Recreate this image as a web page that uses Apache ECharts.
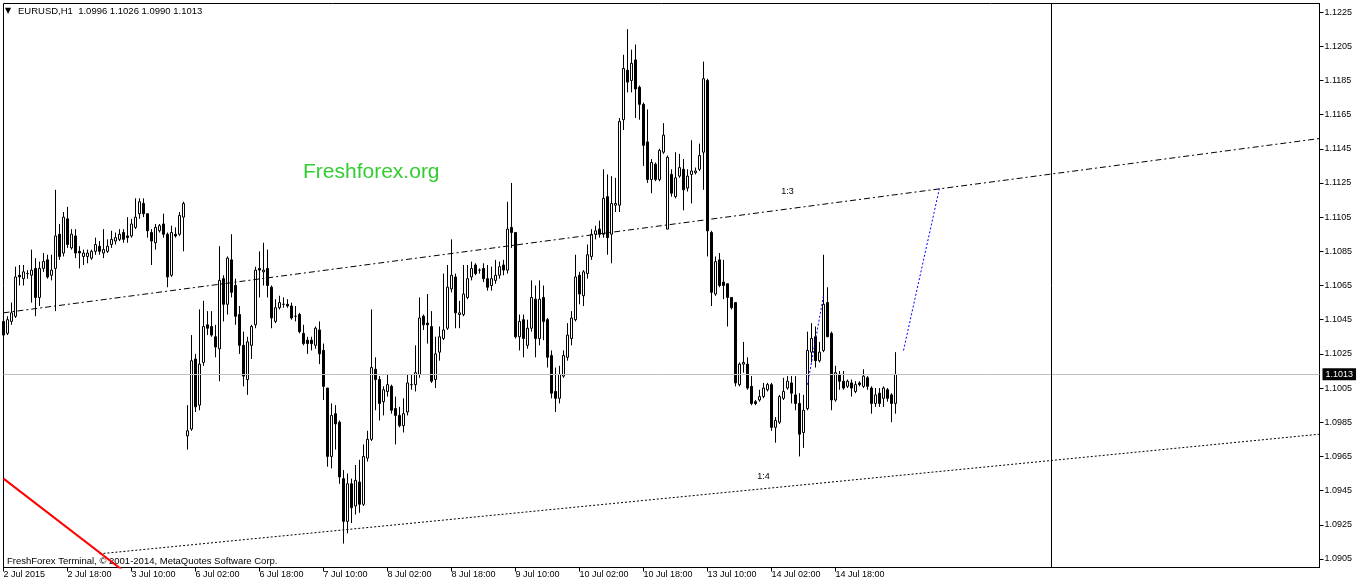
<!DOCTYPE html>
<html>
<head>
<meta charset="utf-8">
<title>EURUSD,H1</title>
<script src="https://cdn.jsdelivr.net/npm/echarts@6/dist/echarts.min.js"></script>
<style>
  html, body { margin: 0; padding: 0; background: #fff; }
  #chart { width: 1362px; height: 586px; }
</style>
</head>
<body>
<div id="chart"></div>
<script>
// EURUSD hourly bars, one array per trading day, each bar [open, high, low, close]
const jul02 = [
  [1.1044,1.1046,1.1030,1.1036],[1.1037,1.1047,1.1036,1.1045],[1.1044,1.1055,1.1042,1.1049],[1.1047,1.1076,1.1046,1.1070],
  [1.1071,1.1077,1.1065,1.1070],[1.1069,1.1077,1.1065,1.1073],[1.1072,1.1074,1.1069,1.1072],[1.1071,1.1086,1.1055,1.1074],
  [1.1075,1.1081,1.1047,1.1058],[1.1058,1.1079,1.1053,1.1075],[1.1075,1.1084,1.1073,1.1079],[1.1080,1.1083,1.1069,1.1070],
  [1.1071,1.1083,1.1068,1.1074],[1.1075,1.1121,1.1050,1.1094],[1.1095,1.1101,1.1080,1.1082],[1.1084,1.1108,1.1082,1.1105],
  [1.1104,1.1111,1.1087,1.1089],[1.1087,1.1098,1.1086,1.1095],[1.1094,1.1098,1.1081,1.1084],[1.1085,1.1088,1.1075,1.1084],
  [1.1082,1.1086,1.1077,1.1084],[1.1082,1.1086,1.1078,1.1084]
];
const jul03 = [
  [1.1081,1.1086,1.1080,1.1085],[1.1085,1.1093,1.1083,1.1089],[1.1088,1.1091,1.1083,1.1085],[1.1084,1.1098,1.1081,1.1086],
  [1.1085,1.1092,1.1084,1.1088],[1.1089,1.1097,1.1087,1.1092],[1.1091,1.1096,1.1089,1.1093],[1.1092,1.1098,1.1091,1.1095],
  [1.1096,1.1098,1.1090,1.1092],[1.1094,1.1105,1.1090,1.1093],[1.1094,1.1104,1.1093,1.1101],[1.1099,1.1116,1.1098,1.1105],
  [1.1107,1.1116,1.1104,1.1114],[1.1113,1.1116,1.1105,1.1107],[1.1107,1.1107,1.1093,1.1097],[1.1096,1.1098,1.1077,1.1091],
  [1.1090,1.1101,1.1086,1.1099],[1.1097,1.1101,1.1096,1.1100],[1.1101,1.1107,1.1093,1.1095],[1.1095,1.1096,1.1064,1.1070],
  [1.1071,1.1100,1.1070,1.1096],[1.1095,1.1099,1.1093,1.1094],[1.1095,1.1108,1.1094,1.1106],[1.1105,1.1114,1.1085,1.1113]
];
const jul06 = [
  [1.0977,1.0995,1.0969,1.0980],[1.0981,1.1036,1.0980,1.1021],[1.1022,1.1025,1.0991,1.0994],[1.0995,1.1051,1.0992,1.1019],
  [1.1020,1.1056,1.1018,1.1041],[1.1042,1.1050,1.1036,1.1040],[1.1041,1.1050,1.1035,1.1036],[1.1035,1.1042,1.1023,1.1029],
  [1.1028,1.1088,1.1009,1.1068],[1.1069,1.1071,1.1044,1.1054],[1.1054,1.1082,1.1048,1.1081],[1.1080,1.1095,1.1058,1.1061],
  [1.1065,1.1069,1.1042,1.1047],[1.1048,1.1053,1.1025,1.1030],[1.1030,1.1038,1.1006,1.1012],[1.1010,1.1035,1.1001,1.1032],
  [1.1030,1.1042,1.1022,1.1041],[1.1042,1.1076,1.1040,1.1074],[1.1075,1.1085,1.1058,1.1074],[1.1073,1.1090,1.1065,1.1074],
  [1.1075,1.1086,1.1058,1.1065],[1.1064,1.1065,1.1040,1.1046],[1.1044,1.1057,1.1043,1.1052],[1.1052,1.1059,1.1051,1.1055]
];
const jul07 = [
  [1.1054,1.1058,1.1052,1.1054],[1.1054,1.1057,1.1052,1.1053],[1.1053,1.1055,1.1045,1.1046],[1.1047,1.1053,1.1044,1.1047],
  [1.1048,1.1049,1.1037,1.1038],[1.1037,1.1042,1.1030,1.1031],[1.1033,1.1035,1.1025,1.1031],[1.1033,1.1035,1.1027,1.1031],
  [1.1030,1.1041,1.1028,1.1040],[1.1039,1.1044,1.1019,1.1025],[1.1027,1.1031,1.0998,1.1006],[1.1005,1.1005,1.0959,1.0965],
  [1.0965,1.0996,1.0958,1.0989],[1.0990,1.0995,1.0969,1.0984],[1.0985,1.0986,1.0949,1.0953],[1.0952,1.0957,1.0914,1.0927],
  [1.0927,1.0955,1.0920,1.0949],[1.0949,1.0952,1.0926,1.0935],[1.0936,1.0960,1.0931,1.0951],[1.0950,1.0963,1.0932,1.0937],
  [1.0937,1.0972,1.0936,1.0965],[1.0964,1.0980,1.0962,1.0975],[1.0975,1.1051,1.0974,1.1017],[1.1016,1.1023,1.0992,1.1010]
];
const jul08 = [
  [1.1010,1.1012,1.0986,1.0996],[1.0997,1.1006,1.0989,1.1004],[1.1003,1.1013,1.1000,1.1007],[1.1006,1.1007,1.0990,1.0992],
  [1.0993,1.1000,1.0972,1.0989],[1.0989,1.0994,1.0982,1.0983],[1.0983,1.0999,1.0979,1.0990],[1.0991,1.1013,1.0989,1.1008],
  [1.1007,1.1013,1.1004,1.1007],[1.1007,1.1030,1.1003,1.1014],[1.1013,1.1058,1.1011,1.1046],[1.1047,1.1048,1.1039,1.1042],
  [1.1043,1.1060,1.1031,1.1042],[1.1041,1.1050,1.1008,1.1009],[1.1010,1.1035,1.1005,1.1025],[1.1026,1.1041,1.1021,1.1035],
  [1.1034,1.1072,1.1033,1.1039],[1.1040,1.1077,1.1039,1.1064],[1.1063,1.1092,1.1061,1.1071],[1.1070,1.1072,1.1040,1.1049],
  [1.1048,1.1056,1.1040,1.1049],[1.1048,1.1077,1.1047,1.1060],[1.1058,1.1077,1.1057,1.1069],[1.1070,1.1079,1.1068,1.1075]
];
const jul09 = [
  [1.1077,1.1078,1.1071,1.1072],[1.1074,1.1075,1.1072,1.1074],[1.1075,1.1078,1.1067,1.1069],[1.1069,1.1077,1.1062,1.1064],
  [1.1065,1.1076,1.1062,1.1069],[1.1068,1.1080,1.1066,1.1071],[1.1071,1.1079,1.1069,1.1076],[1.1077,1.1080,1.1071,1.1074],
  [1.1074,1.1114,1.1072,1.1098],[1.1099,1.1125,1.1087,1.1096],[1.1096,1.1096,1.1034,1.1035],[1.1035,1.1048,1.1027,1.1044],
  [1.1045,1.1048,1.1023,1.1034],[1.1030,1.1045,1.1028,1.1040],[1.1040,1.1068,1.1038,1.1058],[1.1057,1.1065,1.1023,1.1034],
  [1.1034,1.1068,1.1030,1.1057],[1.1058,1.1065,1.1033,1.1044],[1.1045,1.1046,1.1017,1.1023],[1.1024,1.1027,1.0999,1.1002],
  [1.1003,1.1017,1.0991,1.0999],[1.0999,1.1018,1.0996,1.1013],[1.1012,1.1027,1.1011,1.1024],[1.1023,1.1043,1.1021,1.1036]
];
const jul10 = [
  [1.1034,1.1050,1.1030,1.1046],[1.1045,1.1083,1.1044,1.1070],[1.1071,1.1073,1.1054,1.1060],[1.1059,1.1074,1.1053,1.1073],
  [1.1072,1.1089,1.1069,1.1083],[1.1082,1.1098,1.1080,1.1095],[1.1095,1.1100,1.1092,1.1097],[1.1098,1.1103,1.1093,1.1095],
  [1.1095,1.1133,1.1093,1.1116],[1.1117,1.1130,1.1083,1.1093],[1.1095,1.1129,1.1078,1.1113],[1.1112,1.1128,1.1108,1.1113],
  [1.1112,1.1163,1.1108,1.1161],[1.1162,1.1200,1.1156,1.1192],[1.1191,1.1215,1.1178,1.1184],[1.1185,1.1203,1.1178,1.1195],
  [1.1197,1.1206,1.1163,1.1180],[1.1181,1.1182,1.1162,1.1171],[1.1171,1.1172,1.1135,1.1147],[1.1149,1.1168,1.1125,1.1127],
  [1.1127,1.1139,1.1119,1.1137],[1.1136,1.1137,1.1126,1.1127],[1.1127,1.1145,1.1126,1.1144],[1.1143,1.1160,1.1142,1.1153]
];
const jul13 = [
  [1.1098,1.1141,1.1098,1.1140],[1.1130,1.1133,1.1117,1.1119],[1.1117,1.1143,1.1116,1.1128],[1.1129,1.1142,1.1128,1.1134],
  [1.1133,1.1139,1.1109,1.1121],[1.1122,1.1133,1.1120,1.1129],[1.1130,1.1150,1.1113,1.1132],[1.1131,1.1134,1.1130,1.1132],
  [1.1133,1.1148,1.1132,1.1141],[1.1143,1.1196,1.1121,1.1186],[1.1185,1.1186,1.1082,1.1097],[1.1096,1.1097,1.1053,1.1061],
  [1.1060,1.1082,1.1059,1.1079],[1.1080,1.1084,1.1064,1.1065],[1.1067,1.1080,1.1057,1.1065],[1.1066,1.1066,1.1041,1.1058],
  [1.1058,1.1058,1.1051,1.1052],[1.1055,1.1055,1.1006,1.1008],[1.1007,1.1020,1.1006,1.1019],[1.1019,1.1032,1.1014,1.1020],
  [1.1019,1.1023,1.1004,1.1005],[1.1006,1.1012,1.0995,1.0996],[1.0997,1.0998,1.0995,1.0996],[1.0998,1.1004,1.0997,1.1000]
];
const jul14 = [
  [1.1000,1.1008,1.0999,1.1005],[1.1004,1.1008,1.1003,1.1007],[1.1007,1.1008,1.0980,1.0982],[1.0982,1.0988,1.0973,1.0986],
  [1.0985,1.1001,1.0984,1.1000],[1.0999,1.1011,1.0998,1.1003],[1.1005,1.1012,1.1004,1.1009],[1.1008,1.1012,1.0996,1.1002],
  [1.1001,1.1012,1.0992,1.0996],[1.0996,1.1002,1.0965,1.0978],[1.0979,1.1001,1.0970,1.0992],[1.0993,1.1038,1.0992,1.1027],
  [1.1026,1.1043,1.1020,1.1034],[1.1035,1.1041,1.1017,1.1021],[1.1021,1.1032,1.1020,1.1026],[1.1027,1.1083,1.1026,1.1054],
  [1.1055,1.1064,1.1035,1.1035],[1.1037,1.1038,1.0992,1.0998],[1.0998,1.1018,1.0997,1.1014],[1.1013,1.1015,1.1004,1.1009],
  [1.1009,1.1015,1.1004,1.1005],[1.1006,1.1010,1.1005,1.1009],[1.1008,1.1010,1.1000,1.1005],[1.1003,1.1009,1.1002,1.1007]
];
const jul15 = [
  [1.1008,1.1009,1.1006,1.1007],[1.1006,1.1016,1.1005,1.1012],[1.1011,1.1012,1.1004,1.1006],[1.1005,1.1006,1.0990,1.0996],
  [1.0996,1.1005,1.0994,1.1001],[1.1002,1.1005,1.0994,1.0996],[1.0999,1.1006,1.0994,1.1005],[1.1004,1.1005,1.0997,1.0999],
  [1.1001,1.1002,1.0985,1.0996],[1.0996,1.1026,1.0990,1.1013]
];

// time-scale labels, one every 16 bars
const timeLabels = ['2 Jul 2015', '2 Jul 18:00', '3 Jul 10:00', '6 Jul 02:00', '6 Jul 18:00', '7 Jul 10:00',
  '8 Jul 02:00', '8 Jul 18:00', '9 Jul 10:00', '10 Jul 02:00', '10 Jul 18:00', '13 Jul 10:00',
  '14 Jul 02:00', '14 Jul 18:00'];
// price-scale labels
const priceLabels = [1.0905, 1.0925, 1.0945, 1.0965, 1.0985, 1.1005, 1.1025, 1.1045, 1.1065,
  1.1085, 1.1105, 1.1125, 1.1145, 1.1165, 1.1185, 1.1205, 1.1225];

// drawn objects: [bar index, price]
const channelUpper = [[0, 1.1049], [329, 1.1151]];   // dash-dot "1:3"
const channelLower = [[24, 1.0908], [329, 1.0978]];  // dotted "1:4"
const redRay = [[0, 1.0952], [30, 1.0898]];
const blueLegA = [[201, 1.1007], [205, 1.1059]];
const blueLegB = [[225, 1.1027], [234, 1.1122]];
const upperTag = [196, 1.1120];
const lowerTag = [190, 1.0953];
const markerBar = 262;             // vertical line
const labelStep = 16;
const slotCount = 330;             // bars plus right-hand shift space

const bars = [].concat(jul02, jul03, jul06, jul07, jul08, jul09, jul10, jul13, jul14, jul15);
const slots = Array.from({ length: slotCount }, (_, i) => String(i));
const candles = bars.map(b => [b[0], b[3], b[2], b[1]]);   // open, close, low, high
const lastIndex = bars.length - 1;
const last = bars[lastIndex];
const fmt = v => v.toFixed(4);

const FONT = '"Liberation Sans", Arial, sans-serif';
const showLabel = idx => idx % labelStep === 0 && idx / labelStep < timeLabels.length;

const chart = echarts.init(document.getElementById('chart'), null, { renderer: 'canvas' });
chart.setOption({
  animation: false,
  backgroundColor: '#fff',
  grid: { left: 3.5, right: 42.5, top: 3.5, bottom: 18.5, show: true, borderColor: '#000', borderWidth: 1, backgroundColor: '#fff' },
  xAxis: {
    type: 'category',
    data: slots,
    boundaryGap: false,
    axisLine: { show: true, lineStyle: { color: '#000', width: 1 } },
    axisTick: { show: true, interval: showLabel, length: 4, lineStyle: { color: '#000' } },
    axisLabel: {
      interval: showLabel,
      formatter: (v, idx) => timeLabels[idx / labelStep] || '',
      align: 'left', margin: 3, fontSize: 9, color: '#000', fontFamily: FONT
    },
    splitLine: { show: false }
  },
  yAxis: {
    type: 'value',
    position: 'right',
    min: 1.0900, max: 1.1230,
    axisLine: { show: true, lineStyle: { color: '#000', width: 1 } },
    axisTick: { show: true, length: 4, customValues: priceLabels, lineStyle: { color: '#000' } },
    axisLabel: { customValues: priceLabels, formatter: v => fmt(v), margin: 5, fontSize: 9, color: '#000', fontFamily: FONT },
    splitLine: { show: false }
  },
  series: [
    {
      // bid line and vertical marker, kept beneath the bars
      type: 'line', data: [[lastIndex, last[3]]], symbol: 'none', silent: true, z: 1,
      lineStyle: { opacity: 0 },
      markLine: {
        silent: true, symbol: 'none', animation: false, precision: 4,
        data: [
          {
            yAxis: last[3],
            lineStyle: { color: '#c0c0c0', width: 1, type: 'solid' },
            label: {
              show: true, position: 'end', distance: 3, formatter: fmt(last[3]),
              color: '#fff', backgroundColor: '#000', padding: [2, 3, 1, 3], fontSize: 9, fontFamily: FONT
            }
          },
          { xAxis: markerBar, lineStyle: { color: '#000', width: 1, type: 'solid' }, label: { show: false } }
        ]
      }
    },
    {
      type: 'line', data: channelUpper, symbol: 'none', silent: true, z: 3,
      lineStyle: { color: '#000', width: 1, type: [6, 3, 2, 3] },
      markPoint: {
        symbol: 'circle', symbolSize: 1, itemStyle: { color: 'rgba(0,0,0,0)' },
        label: { show: true, position: 'inside', formatter: '1:3', color: '#000', fontSize: 9, fontFamily: FONT },
        data: [{ coord: upperTag }]
      }
    },
    {
      type: 'line', data: channelLower, symbol: 'none', silent: true, z: 3,
      lineStyle: { color: '#000', width: 1, type: [2, 2] },
      markPoint: {
        symbol: 'circle', symbolSize: 1, itemStyle: { color: 'rgba(0,0,0,0)' },
        label: { show: true, position: 'inside', formatter: '1:4', color: '#000', fontSize: 9, fontFamily: FONT },
        data: [{ coord: lowerTag }]
      }
    },
    { type: 'line', data: redRay, symbol: 'none', silent: true, z: 3, lineStyle: { color: '#ff0000', width: 2 } },
    { type: 'line', data: blueLegA, symbol: 'none', silent: true, z: 3, lineStyle: { color: '#0000ff', width: 1, type: [2, 2] } },
    { type: 'line', data: blueLegB, symbol: 'none', silent: true, z: 3, lineStyle: { color: '#0000ff', width: 1, type: [2, 2] } },
    {
      type: 'candlestick', data: candles, barWidth: 2, z: 2, silent: true,
      itemStyle: { color: '#fff', color0: '#000', borderColor: '#000', borderColor0: '#000', borderWidth: 1 }
    }
  ],
  graphic: [
    { type: 'text', x: 5, y: 11, silent: true, style: { text: '\u25BC', font: '8px "DejaVu Sans", sans-serif', fill: '#000', verticalAlign: 'middle' } },
    { type: 'text', x: 18, y: 11, silent: true, style: { text: 'EURUSD,H1  ' + last.map(fmt).join(' '), font: '9.5px ' + FONT, fill: '#000', verticalAlign: 'middle' } },
    { type: 'text', x: 303, y: 172, silent: true, style: { text: 'Freshforex.org', font: '21px ' + FONT, fill: '#32cd32', verticalAlign: 'middle' } },
    { type: 'text', x: 7, y: 561, silent: true, style: { text: 'FreshForex Terminal, \u00A9 2001-2014, MetaQuotes Software Corp.', font: '9.5px ' + FONT, fill: '#000', verticalAlign: 'middle' } }
  ]
});
</script>
</body>
</html>
